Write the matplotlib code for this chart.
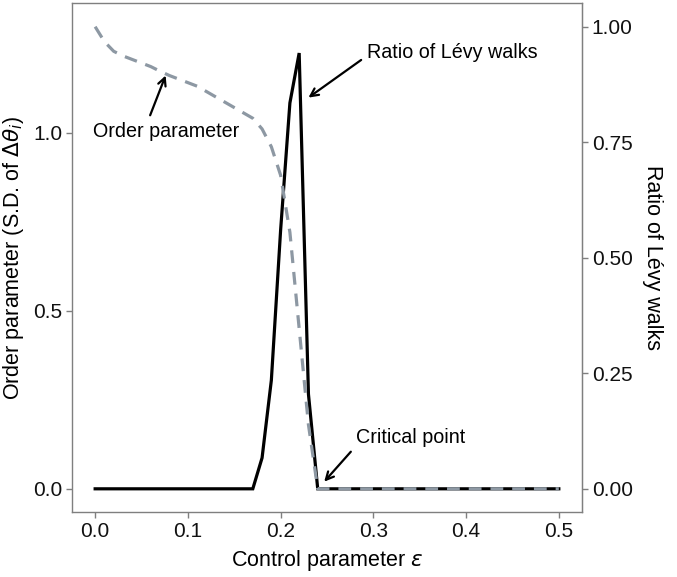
import matplotlib.pyplot as plt
import numpy as np

plt.rcParams['font.family'] = ['Liberation Sans', 'DejaVu Sans']
plt.rcParams['mathtext.fontset'] = 'dejavusans'

# control parameter epsilon
eps = np.round(np.arange(0, 0.501, 0.01), 2)

# order parameter (S.D. of delta theta), left axis
order_head = [1.297, 1.255, 1.228, 1.215, 1.205, 1.195, 1.185, 1.172, 1.160,
              1.150, 1.140, 1.130, 1.115, 1.100, 1.085, 1.070, 1.055, 1.040,
              1.010, 0.960, 0.880, 0.720, 0.450, 0.180, 0.0]
order_param = order_head + [0.0] * (len(eps) - len(order_head))

# ratio of Levy walks, right axis
levy_head = [0.0] * 17 + [0.0, 0.067, 0.235, 0.560, 0.835, 0.943, 0.205, 0.0]
levy_ratio = levy_head + [0.0] * (len(eps) - len(levy_head))

scale = 1.297  # right axis 1.00 sits at this order-parameter value

fig = plt.figure(figsize=(6.77, 5.77), dpi=100)
ax = fig.add_axes([0.1063, 0.1127, 0.7534, 0.8821])

ax.plot(eps, np.array(levy_ratio) * scale, color='black', lw=2.3,
        solid_joinstyle='miter', zorder=2)
ax.plot(eps, order_param, color='#8d98a3', lw=2.3, dashes=(4, 2.8), zorder=3)

ax.set_xlim(-0.025, 0.525)
ax.set_ylim(-0.065, 1.3635)
ax.set_xticks([0, 0.1, 0.2, 0.3, 0.4, 0.5])
ax.set_xticklabels(['0.0', '0.1', '0.2', '0.3', '0.4', '0.5'])
ax.set_yticks([0, 0.5, 1.0])
ax.set_yticklabels(['0.0', '0.5', '1.0'])

sec = ax.secondary_yaxis('right', functions=(lambda y: y / scale,
                                             lambda y: y * scale))
sec.set_yticks([0, 0.25, 0.5, 0.75, 1.0])
sec.set_yticklabels(['0.00', '0.25', '0.50', '0.75', '1.00'])

for a in (ax, sec):
    a.tick_params(labelsize=15, color='#7f7f7f', length=4, width=1,
                  labelcolor='#111111', pad=3)
for s in ax.spines.values():
    s.set_color('#7f7f7f')
    s.set_linewidth(1)
sec.spines['right'].set_color('#7f7f7f')

ax.set_xlabel(r'Control parameter $\varepsilon$', fontsize=15.5, labelpad=5)
ax.set_ylabel(r'Order parameter (S.D. of $\Delta\theta_i$)', fontsize=15.5,
              labelpad=5)
sec.set_ylabel('Ratio of Lévy walks', fontsize=15.5, rotation=270,
               labelpad=22)

def arrow(relpos):
    return dict(arrowstyle='->', color='black', lw=1.6, mutation_scale=14,
                relpos=relpos, shrinkA=3, shrinkB=0)

ax.annotate('Ratio of Lévy walks', xy=(0.230, 1.098), xytext=(0.2935, 1.224),
            fontsize=14.2, ha='left', va='center', arrowprops=arrow((0, 0.35)))
ax.annotate('Order parameter', xy=(0.076, 1.16), xytext=(0.077, 1.003),
            fontsize=14.2, ha='center', va='center',
            arrowprops=arrow((0.37, 1)))
ax.annotate('Critical point', xy=(0.247, 0.02), xytext=(0.2817, 0.143),
            fontsize=14.2, ha='left', va='center', arrowprops=arrow((0, 0.1)))

fig.savefig('out.png', dpi=100)
